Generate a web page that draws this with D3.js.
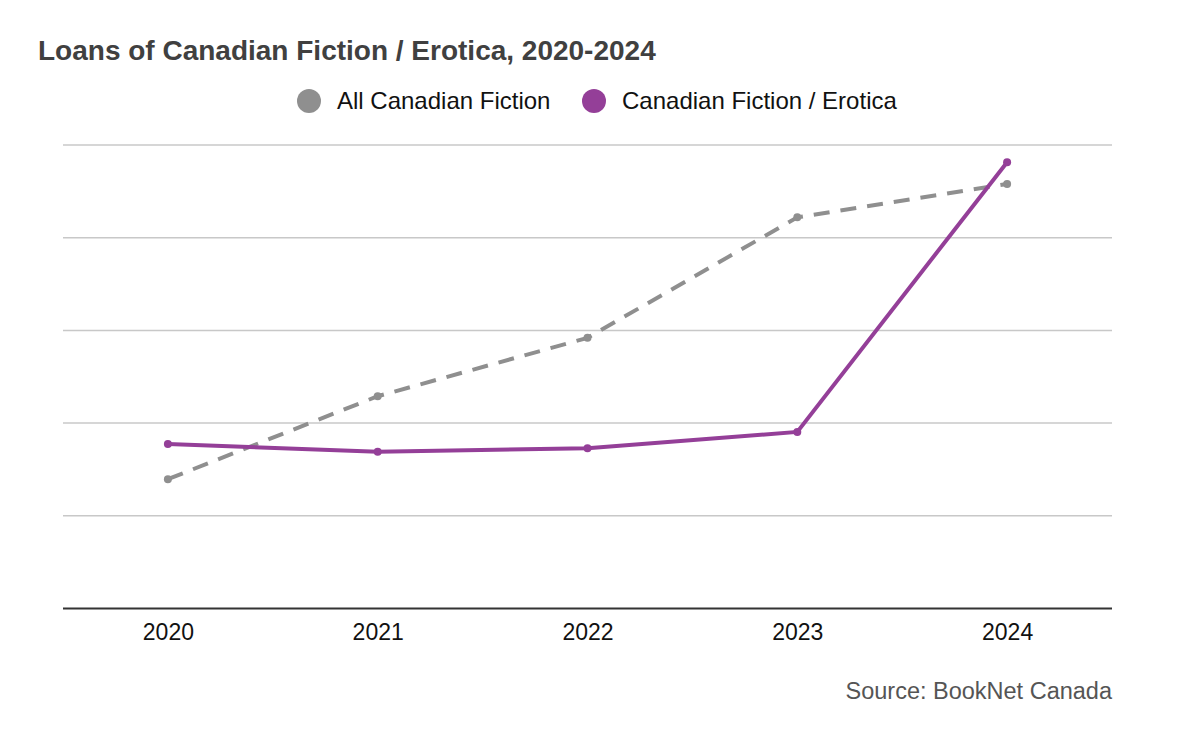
<!DOCTYPE html>
<html>
<head>
<meta charset="utf-8">
<script src="https://cdn.jsdelivr.net/npm/d3@7"></script>
<style>
  html, body { margin: 0; padding: 0; background: #fff; }
  svg { display: block; font-family: "Liberation Sans", Arial, sans-serif; }
</style>
</head>
<body>
<svg id="chart" width="1200" height="742"></svg>
<script>
const years = ["2020", "2021", "2022", "2023", "2024"];
const allFiction = [27.9, 45.8, 58.4, 84.4, 91.6];
const erotica = [35.5, 33.8, 34.6, 38.1, 96.3];
const yTicks = [0, 20, 40, 60, 80, 100];
const seriesNames = ["All Canadian Fiction", "Canadian Fiction / Erotica"];
const colors = ["#8f8f8f", "#943f98"];

(function () {
const svg = d3.select("#chart");
const plotLeft = 63, plotRight = 1112, plotTop = 145, plotBottom = 608.5;

const x = d3.scalePoint().domain(years).range([plotLeft, plotRight]).padding(0.5);
const y = d3.scaleLinear().domain([0, 100]).range([plotBottom, plotTop]);

// gridlines
svg.append("g").selectAll("line").data(yTicks.filter(t => t > 0)).join("line")
  .attr("x1", plotLeft).attr("x2", plotRight)
  .attr("y1", d => y(d)).attr("y2", d => y(d))
  .attr("stroke", "#c8c8c8").attr("stroke-width", 1.5);

// x axis
const xAxis = svg.append("g").attr("transform", `translate(0,${plotBottom})`)
  .call(d3.axisBottom(x).tickSize(0).tickPadding(0));
xAxis.select(".domain").attr("stroke", "#333").attr("stroke-width", 2)
  .attr("d", `M${plotLeft},0H${plotRight}`);
xAxis.selectAll("text").attr("font-size", 23).attr("fill", "#111")
  .attr("dy", null).attr("y", 31.5)
  .attr("font-family", "Liberation Sans, Arial, sans-serif");

const line = d3.line().x((d, i) => x(years[i])).y(d => y(d));

const series = [allFiction, erotica];
series.forEach((vals, si) => {
  svg.append("path").datum(vals)
    .attr("d", line)
    .attr("fill", "none")
    .attr("stroke", colors[si])
    .attr("stroke-width", 4)
    .attr("stroke-dasharray", si === 0 ? "16,11" : null);
  svg.append("g").selectAll("circle").data(vals).join("circle")
    .attr("cx", (d, i) => x(years[i]))
    .attr("cy", d => y(d))
    .attr("r", 4)
    .attr("fill", colors[si]);
});

// title
svg.append("text").attr("x", 38).attr("y", 59.5)
  .attr("font-size", 28).attr("font-weight", "bold").attr("fill", "#404040")
  .text("Loans of Canadian Fiction / Erotica, 2020-2024");

// legend
const legendItems = [
  { cx: 309, tx: 337 },
  { cx: 594, tx: 622 }
];
legendItems.forEach((it, i) => {
  svg.append("circle").attr("cx", it.cx).attr("cy", 101).attr("r", 12).attr("fill", colors[i]);
  svg.append("text").attr("x", it.tx).attr("y", 109)
    .attr("font-size", 24).attr("fill", "#111").text(seriesNames[i]);
});

// source
svg.append("text").attr("x", plotRight).attr("y", 699)
  .attr("text-anchor", "end").attr("font-size", 23.5).attr("fill", "#555")
  .text("Source: BookNet Canada");
})();
</script>
</body>
</html>
